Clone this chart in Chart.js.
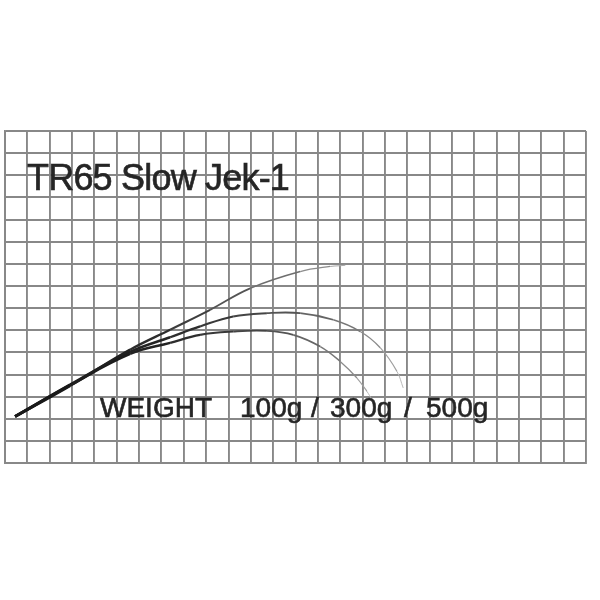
<!DOCTYPE html>
<html>
<head>
<meta charset="utf-8">
<script src="https://cdn.jsdelivr.net/npm/chart.js@4"></script>
<style>
  html, body { margin: 0; padding: 0; background: #fff; }
  #wrap { width: 600px; height: 600px; }
</style>
</head>
<body>
<div id="wrap"><canvas id="chart"></canvas></div>
<script>
const seriesNames = ['100g', '300g', '500g'];

const bend100 = [
  {x: 0.45, y: 2.10}, {x: 2.91, y: 3.49}, {x: 5.60, y: 5.12}, {x: 7.39, y: 6.02},
  {x: 9.18, y: 6.92}, {x: 10.97, y: 7.89}, {x: 13.21, y: 8.65}, {x: 14.55, y: 8.88},
  {x: 15.23, y: 8.93}
];
const bend300 = [
  {x: 0.45, y: 2.10}, {x: 2.91, y: 3.54}, {x: 5.60, y: 5.02}, {x: 7.39, y: 5.68},
  {x: 8.73, y: 6.17}, {x: 10.21, y: 6.62}, {x: 11.72, y: 6.77}, {x: 13.21, y: 6.77},
  {x: 14.69, y: 6.47}, {x: 15.90, y: 5.94}, {x: 16.79, y: 5.21}, {x: 17.54, y: 4.14},
  {x: 17.82, y: 3.39}
];
const bend500 = [
  {x: 0.45, y: 2.10}, {x: 2.91, y: 3.51}, {x: 5.60, y: 4.93}, {x: 7.39, y: 5.43},
  {x: 8.73, y: 5.79}, {x: 10.21, y: 5.94}, {x: 11.72, y: 5.97}, {x: 12.90, y: 5.79},
  {x: 14.11, y: 5.26}, {x: 15.00, y: 4.59}, {x: 15.75, y: 3.84}, {x: 16.20, y: 3.23},
  {x: 16.42, y: 2.86}
];

const titleText = 'TR65 Slow Jek-1';
const weightLabel = 'WEIGHT';

// fade from dark thick butt to light thin tip
function fade(ctx) {
  const n = ctx.chart.data.datasets[ctx.datasetIndex].data.length - 1;
  return ctx.p0DataIndex / n;
}
const tipColor = ctx => {
  const t = Math.pow(fade(ctx), 1.6);
  const c = Math.round(25 + t * 180);
  return `rgb(${c},${c},${c})`;
};
const tipWidth = ctx => 2.8 - fade(ctx) * 2;

function boldText(c, s, x, y) {
  c.fillText(s, x, y);
  c.strokeText(s, x, y);
}

const labelsPlugin = {
  id: 'labels',
  afterDraw(chart) {
    const c = chart.ctx;
    c.save();
    c.fillStyle = '#252525';
    c.strokeStyle = '#252525';
    c.lineWidth = 0.6;
    c.textBaseline = 'alphabetic';
    c.font = '36px "Liberation Sans", Arial, sans-serif';
    c.letterSpacing = '-0.8px';
    boldText(c, titleText, 27, 190);
    c.font = '28px "Liberation Sans", Arial, sans-serif';
    c.letterSpacing = '0px';
    boldText(c, weightLabel, 100, 417);
    boldText(c, seriesNames[0], 240, 417);
    boldText(c, '/', 311, 417);
    boldText(c, seriesNames[1], 330, 417);
    boldText(c, '/', 404, 417);
    boldText(c, seriesNames[2], 426, 417);
    c.restore();
  }
};

const gridStyle = {
  color: '#888888',
  lineWidth: 1.9,
  drawTicks: false
};

new Chart(document.getElementById('chart'), {
  type: 'line',
  data: {
    datasets: [bend100, bend300, bend500].map((d, i) => ({
      label: seriesNames[i],
      data: d,
      borderColor: '#222',
      borderWidth: 2,
      pointRadius: 0,
      tension: 0.4,
      fill: false,
      segment: { borderColor: tipColor, borderWidth: tipWidth }
    }))
  },
  options: {
    responsive: true,
    maintainAspectRatio: false,
    animation: false,
    layout: { padding: { left: 5, top: 131, right: 14, bottom: 137 } },
    plugins: { legend: { display: false }, tooltip: { enabled: false } },
    scales: {
      x: {
        type: 'linear', min: 0, max: 26,
        ticks: { display: false, stepSize: 1 },
        grid: gridStyle,
        border: { color: '#888888', width: 1.9 }
      },
      y: {
        type: 'linear', min: 0, max: 15,
        ticks: { display: false, stepSize: 1 },
        grid: gridStyle,
        border: { color: '#888888', width: 1.9 }
      }
    }
  },
  plugins: [labelsPlugin]
});
</script>
</body>
</html>
